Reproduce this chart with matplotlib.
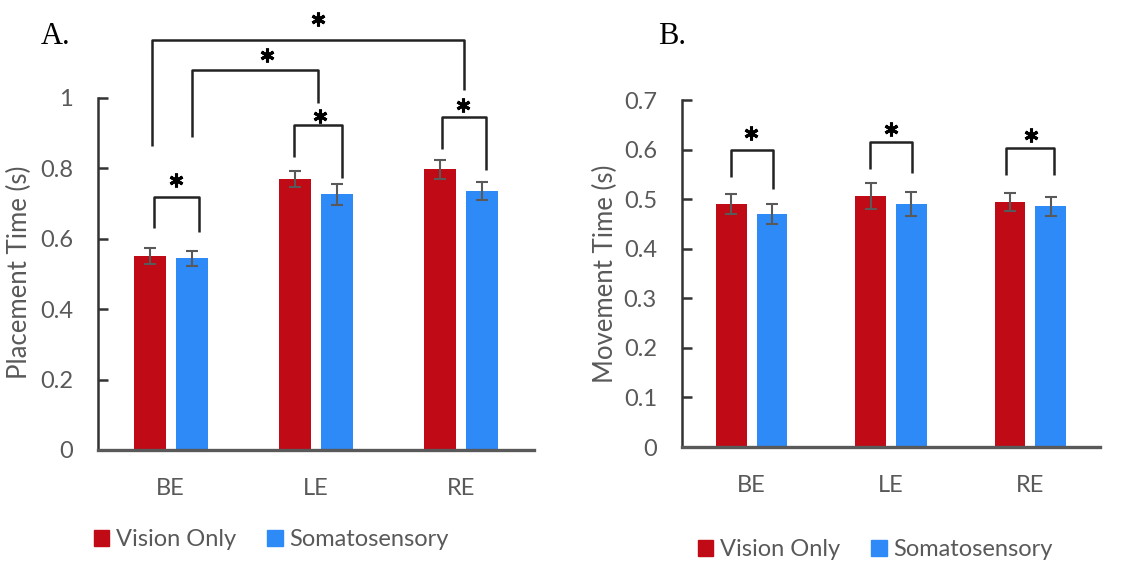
import matplotlib
matplotlib.use("Agg")
import matplotlib.pyplot as plt
import numpy as np
from matplotlib.patches import Patch

plt.rcParams['font.family'] = ['Lato', 'DejaVu Sans']

categories = ["BE", "LE", "RE"]
series_names = ["Vision Only", "Somatosensory"]

# panel A: placement time (s)
placement_vision = [0.551, 0.770, 0.798]
placement_vision_err = [0.023, 0.023, 0.027]
placement_soma = [0.545, 0.727, 0.736]
placement_soma_err = [0.021, 0.030, 0.026]

# panel B: movement time (s)
movement_vision = [0.490, 0.506, 0.495]
movement_vision_err = [0.020, 0.026, 0.018]
movement_soma = [0.470, 0.490, 0.486]
movement_soma_err = [0.021, 0.024, 0.019]

# significance brackets: x_left, x_right, y_top, y_left_end, y_right_end, star_x, star_y
brackets_a = [
    (-0.13, 2.02, 1.165, 0.864, 1.023, 1.015, 1.224),
    (0.15, 1.015, 1.080, 0.889, 0.986, 0.66, 1.122),
    (0.85, 1.18, 0.923, 0.832, 0.773, 1.03, 0.949),
    (1.866, 2.168, 0.946, 0.855, 0.795, 2.01, 0.980),
    (-0.117, 0.192, 0.719, 0.631, 0.619, 0.034, 0.767),
]
brackets_b = [
    (-0.15, 0.15, 0.600, 0.545, 0.520, -0.007, 0.633),
    (0.846, 1.154, 0.616, 0.560, 0.553, 0.998, 0.641),
    (1.826, 2.172, 0.604, 0.548, 0.548, 2.005, 0.629),
]

red = '#C00A16'
blue = '#2E8AF6'
grey = '#595959'

W, H = 1133, 565
fig = plt.figure(figsize=(W / 100, H / 100), dpi=100)
axA = fig.add_axes([98 / W, 115 / H, 436 / W, 352 / H])
axB = fig.add_axes([682 / W, 118 / H, 418 / W, 347 / H])


def draw_panel(ax, vis, vis_err, som, som_err, ymax, yticks, ticklabels, ylabel, brackets):
    x = np.arange(len(categories))
    ekw = dict(ecolor=grey, capsize=4, elinewidth=1.5, capthick=1.5)
    ax.bar(x - 0.145, vis, 0.22, color=red, yerr=vis_err, error_kw=ekw, label=series_names[0])
    ax.bar(x + 0.145, som, 0.22, color=blue, yerr=som_err, error_kw=ekw, label=series_names[1])
    ax.set_xlim(-0.5, len(categories) - 0.5)
    ax.set_ylim(0, ymax)
    ax.set_xticks(x)
    ax.set_xticklabels(categories)
    ax.set_yticks(yticks)
    ax.set_yticklabels(ticklabels)
    ax.tick_params(axis='x', length=0, pad=20, labelsize=17, labelcolor=grey)
    ax.tick_params(axis='y', direction='in', length=7, width=1.8, color='#333333',
                   pad=18, labelsize=17, labelcolor=grey)
    for s in ['top', 'right']:
        ax.spines[s].set_visible(False)
    ax.spines['left'].set_color('#333333')
    ax.spines['left'].set_linewidth(1.8)
    ax.spines['bottom'].set_color(grey)
    ax.spines['bottom'].set_linewidth(2.4)
    ax.set_ylabel(ylabel, fontsize=18.5, color=grey)
    for xl, xr, yt, yl, yr, sx, sy in brackets:
        ax.plot([xl, xl, xr, xr], [yl, yt, yt, yr], color='#222222', lw=1.8,
                clip_on=False, solid_capstyle='butt')
        ax.plot(sx, sy, marker=(6, 2, 0), ms=10, mew=2.2, color='black', clip_on=False)


draw_panel(axA, placement_vision, placement_vision_err, placement_soma, placement_soma_err,
           1.0, [0, 0.2, 0.4, 0.6, 0.8, 1.0], ["0", "0.2", "0.4", "0.6", "0.8", "1"],
           "Placement Time (s)", brackets_a)
axA.yaxis.set_label_coords(-0.151, 0.505)

draw_panel(axB, movement_vision, movement_vision_err, movement_soma, movement_soma_err,
           0.7, [0, 0.1, 0.2, 0.3, 0.4, 0.5, 0.6, 0.7],
           ["0", "0.1", "0.2", "0.3", "0.4", "0.5", "0.6", "0.7"],
           "Movement Time (s)", brackets_b)
axB.yaxis.set_label_coords(-0.153, 0.5)

handles = [Patch(color=red), Patch(color=blue)]
for center in [(271.5 / W, 1 - 540 / H), (875.5 / W, 1 - 550 / H)]:
    leg = fig.legend(handles, series_names, loc='center', bbox_to_anchor=center, ncol=2,
                     frameon=False, fontsize=17, handlelength=0.65, handleheight=0.65,
                     handletextpad=0.3, columnspacing=1.3, borderpad=0)
    for t in leg.get_texts():
        t.set_color(grey)

fig.text(41 / W, 1 - 37 / H, "A.", family='Liberation Serif', fontsize=22, va='center')
fig.text(658 / W, 1 - 37 / H, "B.", family='Liberation Serif', fontsize=22, va='center')

fig.savefig("out.png", dpi=100)
